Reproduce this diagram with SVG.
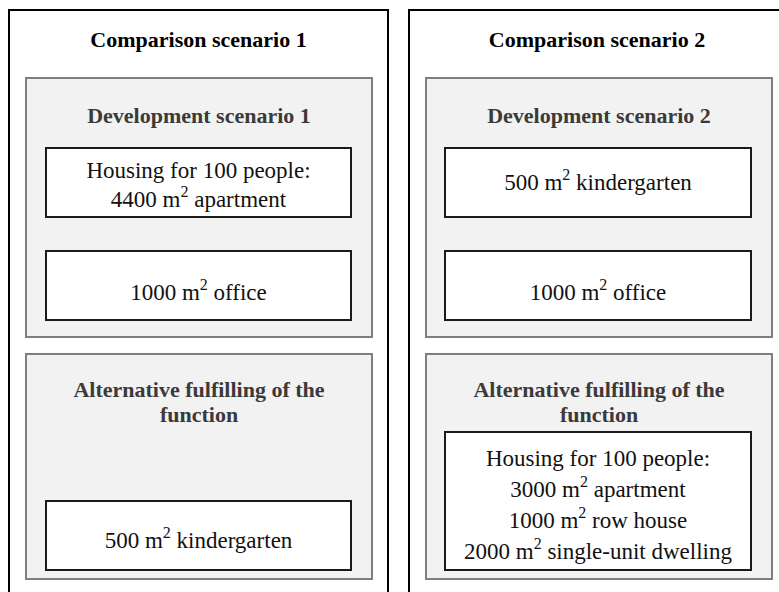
<svg xmlns="http://www.w3.org/2000/svg" width="779" height="592" viewBox="0 0 779 592">
<style>
.outer{fill:#ffffff;stroke:#000000;stroke-width:2}
.grey{fill:#f2f2f2;stroke:#7f7f7f;stroke-width:2}
.white{fill:#ffffff;stroke:#1a1a1a;stroke-width:2}
.t1{font-family:"Liberation Serif","Times New Roman",serif;font-weight:bold;font-size:22px;fill:#000000;text-anchor:middle}
.t2{font-family:"Liberation Serif","Times New Roman",serif;font-weight:bold;font-size:22px;fill:#3a3a3a;text-anchor:middle}
.b{font-family:"Liberation Serif","Times New Roman",serif;font-size:23px;fill:#111111;text-anchor:middle}
.sup{font-size:16px}
</style>
<rect width="779" height="592" fill="#ffffff"/>
<g id="comparison1">
<rect class="outer" x="9" y="10" width="379" height="600"/>
<text class="t1" x="198.5" y="47">Comparison scenario 1</text>
</g>
<g id="comparison2">
<rect class="outer" x="409" y="10" width="390" height="600"/>
<text class="t1" x="597" y="47">Comparison scenario 2</text>
</g>
<g id="dev1">
<rect class="grey" x="26" y="78" width="346" height="259"/>
<text class="t2" x="199" y="123">Development scenario 1</text>
</g>
<g id="dev2">
<rect class="grey" x="426" y="78" width="346" height="259"/>
<text class="t2" x="599" y="123">Development scenario 2</text>
</g>
<g id="alt1">
<rect class="grey" x="26" y="354" width="346" height="225"/>
<text class="t2" x="199" y="397">Alternative fulfilling of the</text>
<text class="t2" x="199" y="422">function</text>
</g>
<g id="alt2">
<rect class="grey" x="426" y="354" width="346" height="225"/>
<text class="t2" x="599" y="397">Alternative fulfilling of the</text>
<text class="t2" x="599" y="422">function</text>
</g>
<g id="housing1">
<rect class="white" x="46" y="148" width="305" height="69"/>
<text class="b" x="198.5" y="178">Housing for 100 people:</text>
<text class="b" x="198.5" y="207">4400 m<tspan class="sup" dy="-10">2</tspan><tspan dy="10"> apartment</tspan></text>
</g>
<g id="office1">
<rect class="white" x="46" y="251" width="305" height="69"/>
<text class="b" x="198.5" y="300">1000 m<tspan class="sup" dy="-10">2</tspan><tspan dy="10"> office</tspan></text>
</g>
<g id="kinder1">
<rect class="white" x="46" y="501" width="305" height="69"/>
<text class="b" x="198.5" y="548">500 m<tspan class="sup" dy="-10">2</tspan><tspan dy="10"> kindergarten</tspan></text>
</g>
<g id="kinder2">
<rect class="white" x="445" y="148" width="306" height="69"/>
<text class="b" x="598" y="190">500 m<tspan class="sup" dy="-10">2</tspan><tspan dy="10"> kindergarten</tspan></text>
</g>
<g id="office2">
<rect class="white" x="445" y="251" width="306" height="69"/>
<text class="b" x="598" y="300">1000 m<tspan class="sup" dy="-10">2</tspan><tspan dy="10"> office</tspan></text>
</g>
<g id="housing2">
<rect class="white" x="445" y="432" width="306" height="138"/>
<text class="b" x="598" y="466">Housing for 100 people:</text>
<text class="b" x="598" y="497">3000 m<tspan class="sup" dy="-10">2</tspan><tspan dy="10"> apartment</tspan></text>
<text class="b" x="598" y="528">1000 m<tspan class="sup" dy="-10">2</tspan><tspan dy="10"> row house</tspan></text>
<text class="b" x="598" y="559">2000 m<tspan class="sup" dy="-10">2</tspan><tspan dy="10"> single-unit dwelling</tspan></text>
</g>
<g id="connectors"></g>
</svg>
